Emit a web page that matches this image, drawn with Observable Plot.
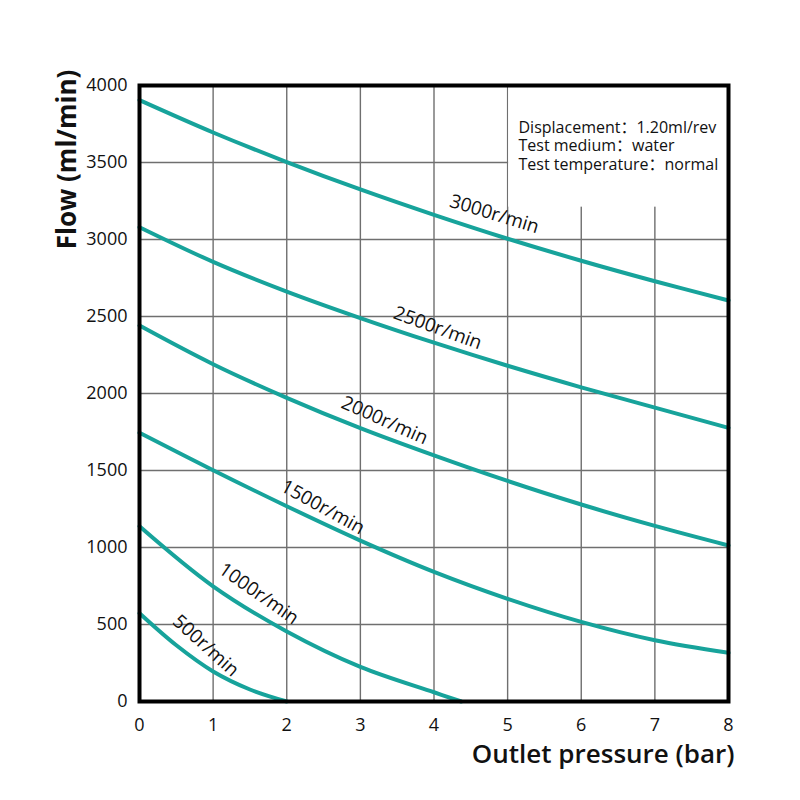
<!DOCTYPE html>
<html>
<head>
<meta charset="utf-8">
<script src="https://cdn.jsdelivr.net/npm/d3@7"></script>
<script src="https://cdn.jsdelivr.net/npm/@observablehq/plot@0.6"></script>
<style>
  html, body { margin: 0; padding: 0; background: #fff; }
  #chart svg { display: block; }
</style>
</head>
<body>
<div id="chart"></div>
<script>
// Outlet pressure (bar) sampled along each speed curve
const pressure = [0, 1, 2, 3, 4, 5, 6, 7, 8];
const flow3000 = [3905, 3695, 3503, 3325, 3160, 3005, 2862, 2729, 2604];
const flow2500 = [3080, 2855, 2662, 2490, 2330, 2180, 2040, 1908, 1777];
const flow2000 = [2441, 2190, 1972, 1775, 1598, 1432, 1279, 1140, 1013];
const flow1500 = [1745, 1502, 1268, 1045, 842, 667, 517, 398, 316];
const pressure1000 = [0, 1, 2, 3, 4, 4.37];
const flow1000 = [1138, 748, 455, 225, 60, 0];
const pressure500 = [0, 0.5, 1, 1.5, 2];
const flow500 = [573, 365, 195, 78, 0];

// Curve labels: text, anchor point (pressure, flow) and slope angle
const speedLabels = ["3000r/min", "2500r/min", "2000r/min", "1500r/min", "1000r/min", "500r/min"];
const labelPressure = [4.82, 4.05, 3.33, 2.49, 1.62, 0.9];
const labelFlow = [3165, 2425, 1825, 1262, 700, 362];
const labelAngle = [17, 20, 24, 29, 35, 42];

const xTicks = [0, 1, 2, 3, 4, 5, 6, 7, 8];
const yTicks = [0, 500, 1000, 1500, 2000, 2500, 3000, 3500, 4000];

const notes = [
  "Displacement：1.20ml/rev",
  "Test medium：water",
  "Test temperature：normal"
];

const series = [
  {name: "3000", xs: pressure, ys: flow3000},
  {name: "2500", xs: pressure, ys: flow2500},
  {name: "2000", xs: pressure, ys: flow2000},
  {name: "1500", xs: pressure, ys: flow1500},
  {name: "1000", xs: pressure1000, ys: flow1000},
  {name: "500", xs: pressure500, ys: flow500}
];
const curveRows = series.flatMap(s => s.xs.map((x, i) => ({speed: s.name, p: x, q: s.ys[i]})));
const labelRows = speedLabels.map((t, i) => ({t, p: labelPressure[i], q: labelFlow[i], a: labelAngle[i]}));

const teal = "#17a39b";
const gridColor = "#6f6f6f";
const font = "'Open Sans', 'Noto Sans', 'Noto Sans CJK SC', sans-serif";

// one text mark per line of the test-condition notes
const noteMarks = notes.map((line, i) => Plot.text([line], {
  frameAnchor: "top-right", dx: -210, dy: 36 + i * 18.5,
  textAnchor: "start", fontSize: 16, fill: "#111"
}));

const chart = Plot.plot({
  width: 800,
  height: 800,
  marginLeft: 139,
  marginRight: 72,
  marginTop: 85,
  marginBottom: 99,
  style: {fontFamily: font, fontSize: "18px", color: "#111", background: "#fff"},
  x: {domain: [0, 8], label: null},
  y: {domain: [0, 4000], label: null},
  marks: [
    Plot.ruleX(xTicks, {stroke: gridColor, strokeWidth: 1.4}),
    Plot.ruleY(yTicks, {stroke: gridColor, strokeWidth: 1.4}),
    // panel holding the test conditions, blanking the grid behind it
    Plot.rect([{x1: 5, x2: 8, y1: 3210, y2: 4000}], {
      x1: "x1", x2: "x2", y1: "y1", y2: "y2", fill: "white", insetLeft: 1
    }),
    Plot.line(curveRows, {
      x: "p", y: "q", z: "speed", stroke: teal, strokeWidth: 4, curve: "catmull-rom"
    }),
    Plot.text(labelRows, {
      x: "p", y: "q", text: "t", rotate: "a", fontSize: 19, fill: "#111"
    }),
    ...noteMarks,
    Plot.frame({stroke: "black", strokeWidth: 4}),
    Plot.axisX({ticks: xTicks, tickSize: 0, tickPadding: 17, fontSize: 18, tickFormat: d => String(d), label: null}),
    Plot.axisY({ticks: yTicks, tickSize: 0, tickPadding: 12, fontSize: 18, tickFormat: d => String(d), label: null}),
    Plot.text(["Flow (ml/min)"], {
      x: 0, y: 3520, dx: -72, rotate: -90,
      fontSize: 26, fontWeight: 700, fill: "#111"
    }),
    Plot.text(["Outlet pressure (bar)"], {
      x: 8, y: 0, dx: 6, dy: 53, textAnchor: "end",
      fontSize: 26, fontWeight: 600, fill: "#111"
    })
  ]
});
document.getElementById("chart").append(chart);
</script>
</body>
</html>
